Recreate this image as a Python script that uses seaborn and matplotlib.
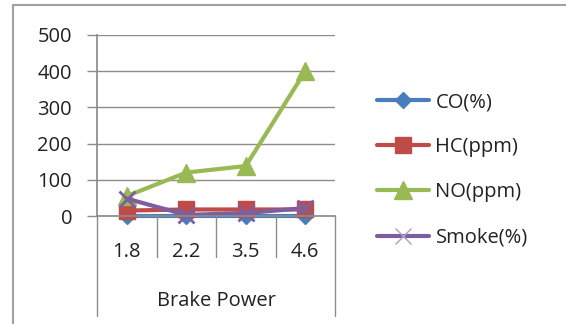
import matplotlib
matplotlib.use("Agg")
import matplotlib.pyplot as plt
import matplotlib.transforms as mtransforms
from matplotlib.lines import Line2D
import seaborn as sns
import pandas as pd

categories = ["1.8", "2.2", "3.5", "4.6"]
co = [1, 1, 1, 1]
hc = [15, 18, 18, 18]
no = [55, 120, 138, 400]
smoke = [48, 3, 8, 22]
series_names = ["CO(%)", "HC(ppm)", "NO(ppm)", "Smoke(%)"]
x_title = "Brake Power"
y_ticks = [0, 100, 200, 300, 400, 500]

sns.set_theme(style="white")
plt.rcParams['font.family'] = ['Open Sans', 'DejaVu Sans']

FS = 14.5
TXT = "#222222"

fig = plt.figure(figsize=(5.66, 3.24), dpi=100)
ax = fig.add_axes([97/566, 1-216/324, (335-97)/566, (216-35)/324])

colors = ["#4A7EBB", "#BE4B48", "#98B954", "#7D5FA0"]
markers = ["D", "s", "^", "x"]
msizes = [8, 12, 13, 11]
values = [co, hc, no, smoke]

for name, vals, c, m, ms in zip(series_names, values, colors, markers, msizes):
    df = pd.DataFrame({"cat": categories, "val": vals})
    sns.lineplot(data=df, x="cat", y="val", ax=ax, color=c, linewidth=3,
                 marker=m, markersize=ms, markeredgecolor=c,
                 markeredgewidth=2 if m == "x" else 1, label=name, sort=False,
                 clip_on=False)

ax.set_xlim(-0.5, 3.5)
ax.set_ylim(0, 500)
ax.set_yticks(y_ticks)
ax.set_yticklabels([str(v) for v in y_ticks], fontsize=FS, color=TXT)
ax.yaxis.grid(True, color="#8c8c8c", linewidth=1)
ax.set_axisbelow(True)
ax.tick_params(axis="y", length=7, width=1, color="#8c8c8c", pad=11, left=True)
ax.tick_params(axis="x", length=0, pad=19, labelsize=FS, labelcolor=TXT)
ax.set_xlabel("")
ax.set_ylabel("")
for s in ["top", "right"]:
    ax.spines[s].set_visible(False)
ax.spines["left"].set_color("#8c8c8c")
ax.spines["bottom"].set_color("#8c8c8c")

trans = mtransforms.blended_transform_factory(ax.transData, ax.transAxes)
for b in [0.5, 1.5, 2.5]:
    ax.plot([b, b], [0, -0.225], transform=trans, color="#8c8c8c", lw=1, clip_on=False)
for b in [-0.5, 3.5]:
    ax.plot([b, b], [0, -0.555], transform=trans, color="#8c8c8c", lw=1, clip_on=False)

ax.text(1.5, -0.47, x_title, transform=trans, ha="center", va="center",
        fontsize=FS, color=TXT)

leg = ax.legend(loc="upper left", bbox_to_anchor=(369/566, 1-84/324),
                bbox_transform=fig.transFigure, frameon=False, fontsize=FS,
                handlelength=2.6, labelspacing=1.25, handletextpad=0.3,
                borderaxespad=0)
for t in leg.get_texts():
    t.set_color(TXT)
# legend's Smoke marker is drawn thin and light in the reference
leg_lines = leg.get_lines()
if len(leg_lines) == 4:
    leg_lines[3].set_markeredgewidth(1)
    leg_lines[3].set_markeredgecolor("#b09cc8")

# chart area border
fig.add_artist(Line2D([13/566, 13/566], [0, 1-5/324], transform=fig.transFigure,
                      color="#a0a0a0", lw=1.5))
fig.add_artist(Line2D([13/566, 1], [1-5/324, 1-5/324], transform=fig.transFigure,
                      color="#a0a0a0", lw=1.5))

fig.savefig("out.png", dpi=100)
